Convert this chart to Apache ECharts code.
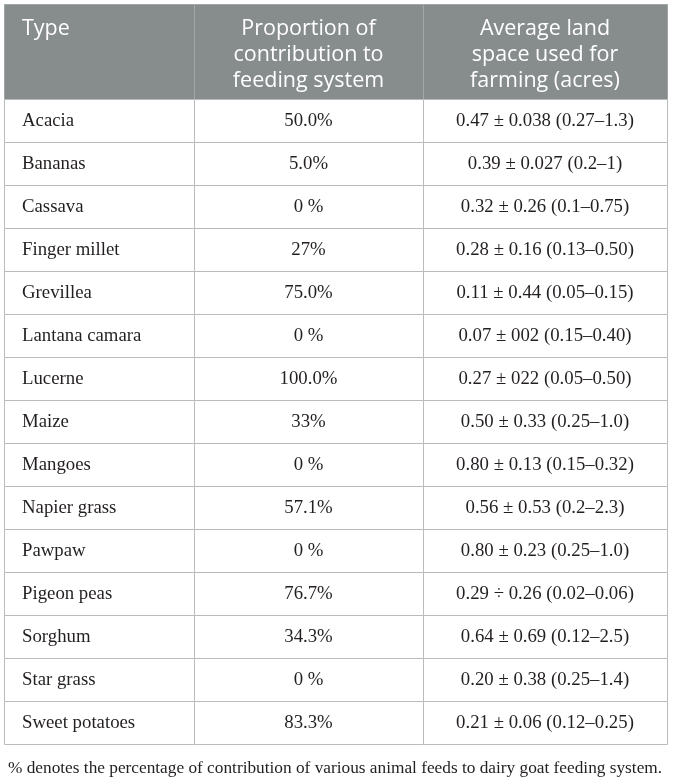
<!DOCTYPE html>
<html>
<head>
<meta charset="utf-8">
<title>Feed types table</title>
<script src="https://cdn.jsdelivr.net/npm/echarts@6.0.0/dist/echarts.min.js"></script>
<style>
  body { margin: 0; background: #fff; }
  #chart { width: 673px; height: 777px; }
</style>
</head>
<body>
<div id="chart"></div>
<script>
// table content
var headers = ['Type', 'Proportion of\ncontribution to\nfeeding system', 'Average land\nspace used for\nfarming (acres)'];
var types = ['Acacia', 'Bananas', 'Cassava', 'Finger millet', 'Grevillea', 'Lantana camara', 'Lucerne',
  'Maize', 'Mangoes', 'Napier grass', 'Pawpaw', 'Pigeon peas', 'Sorghum', 'Star grass', 'Sweet potatoes'];
var proportions = ['50.0%', '5.0%', '0 %', '27%', '75.0%', '0 %', '100.0%', '33%', '0 %', '57.1%',
  '0 %', '76.7%', '34.3%', '0 %', '83.3%'];
var landSpace = ['0.47 ± 0.038 (0.27–1.3)', '0.39 ± 0.027 (0.2–1)', '0.32 ± 0.26 (0.1–0.75)',
  '0.28 ± 0.16 (0.13–0.50)', '0.11 ± 0.44 (0.05–0.15)', '0.07 ± 002 (0.15–0.40)',
  '0.27 ± 022 (0.05–0.50)', '0.50 ± 0.33 (0.25–1.0)', '0.80 ± 0.13 (0.15–0.32)',
  '0.56 ± 0.53 (0.2–2.3)', '0.80 ± 0.23 (0.25–1.0)', '0.29 ÷ 0.26 (0.02–0.06)',
  '0.64 ± 0.69 (0.12–2.5)', '0.20 ± 0.38 (0.25–1.4)', '0.21 ± 0.06 (0.12–0.25)'];
var footnote = '% denotes the percentage of contribution of various animal feeds to dairy goat feeding system.';

// layout (axis units)
var colEdges = [0, 190, 419, 663];
var headerH = 95;
var rowH = 43;
var tableH = headerH + rowH * types.length;

var rows = types.map(function (t, i) { return [i, t, proportions[i], landSpace[i]]; });

function px(v) { return Math.round(v) + 0.5; }

function cellTexts(cells, y0, y1, api, opts) {
  var out = [];
  for (var c = 0; c < 3; c++) {
    var a = api.coord([colEdges[c], y0]);
    var b = api.coord([colEdges[c + 1], y1]);
    out.push({
      type: 'rect',
      shape: { x: px(a[0]), y: px(a[1]), width: Math.round(b[0]) - Math.round(a[0]), height: Math.round(b[1]) - Math.round(a[1]) },
      style: { fill: opts.fill, stroke: opts.stroke, lineWidth: 1 }
    });
    out.push({
      type: 'text',
      style: {
        x: c === 0 ? a[0] + opts.pad : (a[0] + b[0]) / 2,
        y: (a[1] + b[1]) / 2 + opts.dy,
        text: cells[c],
        align: c === 0 ? 'left' : 'center',
        verticalAlign: 'middle',
        fontFamily: opts.font,
        fontSize: opts.size,
        lineHeight: opts.lh,
        fill: opts.color
      },
      z2: 10
    });
  }
  return out;
}

var chart = echarts.init(document.getElementById('chart'));
chart.setOption({
  animation: false,
  title: {
    text: footnote,
    left: 3,
    top: 755,
    textStyle: { fontFamily: 'Liberation Serif', fontSize: 17.3, fontWeight: 'normal', color: '#231f20' }
  },
  grid: { left: 4, right: 6, top: 4, bottom: 777 - 4 - tableH },
  xAxis: { type: 'value', min: 0, max: colEdges[3], show: false },
  yAxis: { type: 'value', min: 0, max: tableH, inverse: true, show: false },
  series: [
    {
      type: 'custom',
      data: [[0]],
      renderItem: function (params, api) {
        var els = cellTexts(headers, 0, headerH, api, {
          fill: '#878c8c', stroke: '#a3a7a7', color: '#ffffff',
          font: 'Open Sans', size: 21.5, lh: 26, pad: 18, dy: 3.5
        });
        // "Type" sits on the first header line
        var a = api.coord([0, 0]);
        els[1].style.verticalAlign = 'middle';
        els[1].style.y = a[1] + 25;
        return { type: 'group', children: els };
      }
    },
    {
      type: 'custom',
      data: rows,
      renderItem: function (params, api) {
        var i = api.value(0);
        var r = rows[i];
        var y0 = headerH + i * rowH;
        return {
          type: 'group',
          children: cellTexts([r[1], r[2], r[3]], y0, y0 + rowH, api, {
            fill: '#ffffff', stroke: '#b9bcbc', color: '#231f20',
            font: 'Liberation Serif', size: 18.8, lh: 20, pad: 18, dy: 1
          })
        };
      }
    }
  ]
});
</script>
</body>
</html>
